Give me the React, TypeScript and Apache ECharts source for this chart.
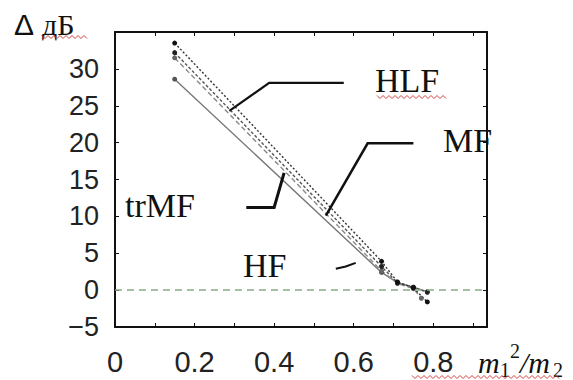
import React, { useEffect, useRef } from "react";
import * as echarts from "echarts";

// ---- data ----
const xHLF = [0.15, 0.67, 0.71, 0.75, 0.785];
const yHLF = [32.2, 3.2, 1.0, 0.4, -0.3];
const xTop = [0.15, 0.67, 0.71, 0.75, 0.785];
const yTop = [33.5, 3.9, 1.1, 0.3, -1.6];
const xTrMF = [0.15, 0.67, 0.71, 0.75, 0.77];
const yTrMF = [31.5, 2.6, 0.9, 0.2, -1.1];
const xMF = [0.15, 0.67, 0.71, 0.75, 0.785];
const yMF = [28.6, 2.4, 1.0, 0.4, -0.2];

const xLabels = ["0", "0.2", "0.4", "0.6", "0.8"];
const yLabels = ["−5", "0", "5", "10", "15", "20", "25", "30"];

// annotations (data coordinates)
const annHLF = [[0.575, 28.1], [0.3875, 28.1], [0.2875, 24.3]];
const annMF = [[0.75, 19.9], [0.635, 19.9], [0.53, 10.1]];
const annTrMF = [[0.33, 11.2], [0.4, 11.2], [0.425, 15.9]];
const annHF = [[0.555, 2.9], [0.58, 3.2], [0.605, 3.7]];

const zip = (xs: number[], ys: number[]) => xs.map((x, i) => [x, ys[i]]);

export default function App() {
  const ref = useRef<HTMLDivElement>(null);
  useEffect(() => {
    const chart = echarts.init(ref.current!, null, { renderer: "svg" });
    const tickStyle = { show: true, inside: true, length: 4, lineStyle: { color: "#111", width: 1 } };
    const axisLine = { show: true, onZero: false, lineStyle: { color: "#111", width: 2 } };
    const mk = (name: string, data: number[][], color: string, type: any, symColor: string) => ({
      name,
      type: "line",
      data,
      symbol: "circle",
      symbolSize: 5,
      itemStyle: { color: symColor },
      lineStyle: { color, width: 1.4, type },
      z: 3,
    });
    chart.setOption({
      animation: false,
      backgroundColor: "#fff",
      grid: { left: 115, top: 32, right: 86, bottom: 53 },
      xAxis: [
        {
          type: "value",
          min: 0,
          max: 0.935,
          interval: 0.1,
          axisLine,
          axisTick: tickStyle,
          splitLine: { show: false },
          axisLabel: {
            margin: 20,
            fontFamily: "Liberation Sans",
            fontSize: 29,
            color: "#222",
            showMaxLabel: false,
            formatter: (v: number) => {
              const t = Math.round(v * 10);
              return t % 2 === 0 && t / 2 < xLabels.length ? xLabels[t / 2] : "";
            },
          },
        },
        {
          type: "value",
          position: "top",
          min: 0,
          max: 0.935,
          interval: 0.1,
          axisLine,
          axisTick: tickStyle,
          splitLine: { show: false },
          axisLabel: { show: false },
        },
      ],
      yAxis: [
        {
          type: "value",
          min: -5,
          max: 35,
          interval: 5,
          axisLine,
          axisTick: tickStyle,
          splitLine: { show: false },
          axisLabel: {
            margin: 16,
            fontFamily: "Liberation Sans",
            fontSize: 27,
            color: "#222",
            formatter: (v: number) => {
              const i = Math.round((v + 5) / 5);
              return i < yLabels.length ? yLabels[i] : "";
            },
          },
        },
        {
          type: "value",
          position: "right",
          min: -5,
          max: 35,
          interval: 5,
          axisLine,
          axisTick: tickStyle,
          splitLine: { show: false },
          axisLabel: { show: false },
        },
      ],
      series: [
        {
          type: "line",
          data: [],
          markLine: {
            silent: true,
            symbol: "none",
            label: { show: false },
            lineStyle: { color: "#86ad86", width: 1.5, type: [7, 5] },
            data: [{ yAxis: 0 }],
          },
        },
        mk("MF", zip(xMF, yMF), "#777", "solid", "#555"),
        mk("trMF", zip(xTrMF, yTrMF), "#888", [5, 3], "#666"),
        mk("HLF", zip(xHLF, yHLF), "#555", [3, 2], "#222"),
        mk("HF", zip(xTop, yTop), "#333", [2, 2], "#111"),
      ],
    });

    const px = (pts: number[][]) => pts.map((p) => chart.convertToPixel({ xAxisIndex: 0, yAxisIndex: 0 }, p));
    const leader = (pts: number[][], w: number) => ({
      type: "polyline",
      shape: { points: px(pts) },
      style: { stroke: "#111", lineWidth: w, fill: null },
      z: 10,
    });
    const txt = (text: string, x: number, y: number, size: number, extra: any = {}) => ({
      type: "text",
      x,
      y,
      style: {
        text,
        fontFamily: "Liberation Serif",
        fontSize: size,
        fill: "#111",
        verticalAlign: "middle",
        align: "left",
        ...extra,
      },
      z: 10,
    });
    const wave = (x0: number, x1: number, y: number) => {
      const pts: number[][] = [];
      let up = true;
      for (let x = x0; x <= x1; x += 3) {
        pts.push([x, up ? y - 1.5 : y + 1.5]);
        up = !up;
      }
      return { type: "polyline", shape: { points: pts }, style: { stroke: "#d04040", lineWidth: 1, fill: null }, z: 10 };
    };
    chart.setOption({
      graphic: [
        leader(annHLF, 2.2),
        leader(annMF, 2.5),
        leader(annTrMF, 3),
        leader(annHF, 2),
        txt("HLF", 375, 80, 34),
        txt("MF", 443, 140, 34),
        txt("trMF", 125, 205, 34),
        txt("HF", 243, 265, 34),
        txt("Δ", 14, 24, 30, { fontFamily: "Liberation Sans" }),
        txt("дБ", 42, 24, 30),
        wave(42, 88, 37),
        wave(377, 447, 97),
        txt("m", 478, 362, 30, { fontStyle: "italic" }),
        txt("1", 500, 370, 20),
        txt("2", 510, 351, 20),
        txt("/m", 520, 362, 30, { fontStyle: "italic" }),
        txt("2", 553, 370, 20),
        wave(412, 560, 377),
      ],
    });
    return () => chart.dispose();
  }, []);
  return (
    <div
      ref={ref}
      style={{ position: "absolute", left: 0, top: 0, width: 573, height: 380, background: "#fff" }}
    />
  );
}
